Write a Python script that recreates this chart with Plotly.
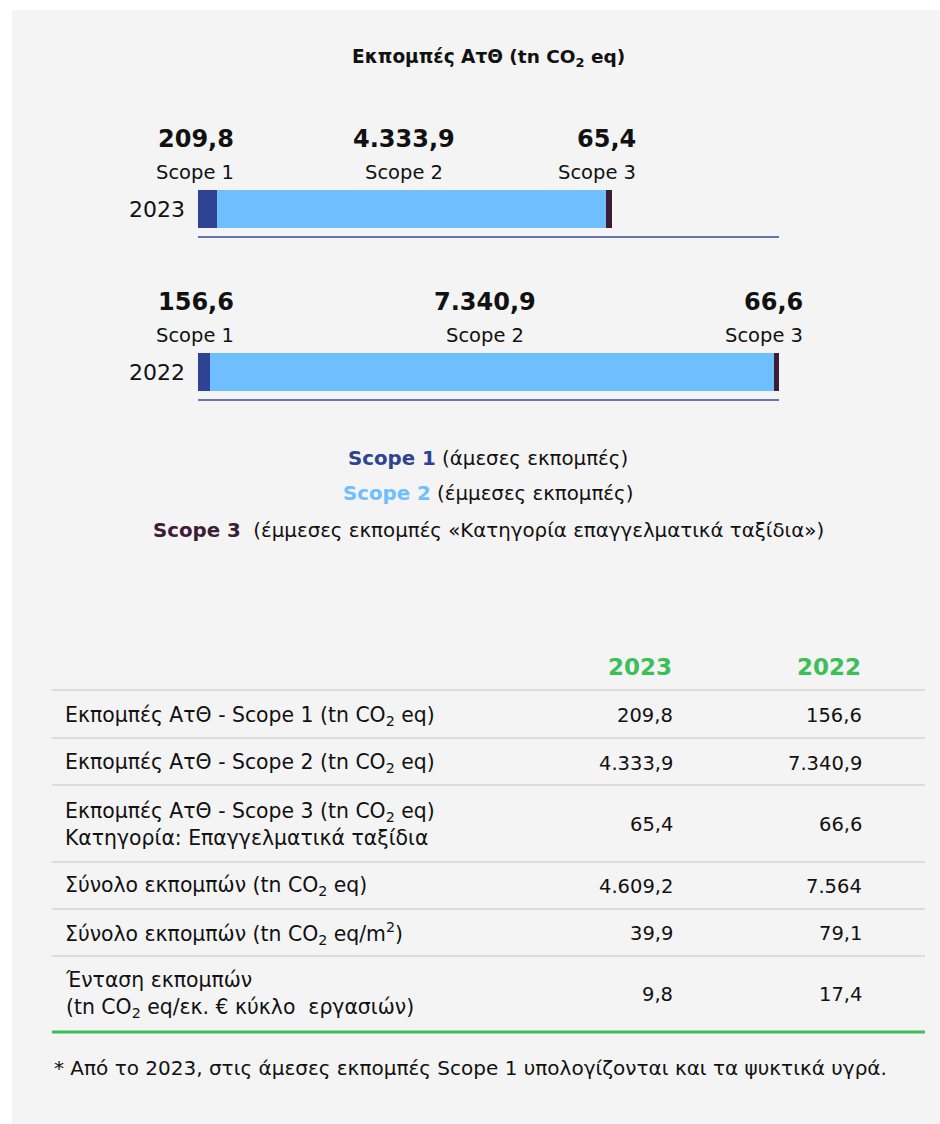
import plotly.graph_objects as go

# ---- data ----
years = ["2023", "2022"]
scope_names = ["Scope 1", "Scope 2", "Scope 3"]
scope1 = [209.8, 156.6]
scope2 = [4333.9, 7340.9]
scope3 = [65.4, 66.6]
value_labels = [["209,8", "4.333,9", "65,4"], ["156,6", "7.340,9", "66,6"]]

legend_lines = [
    ("Scope 1", "(άμεσες εκπομπές)"),
    ("Scope 2", "(έμμεσες εκπομπές)"),
    ("Scope 3", " (έμμεσες εκπομπές «Κατηγορία επαγγελματικά ταξίδια»)"),
]

table_rows = [
    "Εκπομπές ΑτΘ - Scope 1 (tn CO<sub>2</sub> eq)",
    "Εκπομπές ΑτΘ - Scope 2 (tn CO<sub>2</sub> eq)",
    "Εκπομπές ΑτΘ - Scope 3 (tn CO<sub>2</sub> eq)<br>Κατηγορία: Επαγγελματικά ταξίδια",
    "Σύνολο εκπομπών (tn CO<sub>2</sub> eq)",
    "Σύνολο εκπομπών (tn CO<sub>2</sub> eq/m<sup>2</sup>)",
    "Ένταση εκπομπών<br>(tn CO<sub>2</sub> eq/εκ. € κύκλο  εργασιών)",
]
values_2023 = ["209,8", "4.333,9", "65,4", "4.609,2", "39,9", "9,8"]
values_2022 = ["156,6", "7.340,9", "66,6", "7.564", "79,1", "17,4"]
footnote = "* Από το 2023, στις άμεσες εκπομπές Scope 1 υπολογίζονται και τα ψυκτικά υγρά."

# ---- style ----
W, H = 940, 1124
FONT = "DejaVu Sans"
C1, C2, C3 = "#2e4391", "#6fbfff", "#3d1d36"
COLORS = [C1, C2, C3]
GREEN = "#3cbf57"
BG = "#f4f4f4"
TEXT = "#111111"


def px(x):
    return x / W


def py(y):
    return 1 - y / H


fig = go.Figure()

# geometry of each year's bar block (pixels)
bar_blocks = [
    dict(x0=198, x1=612, y0=190, y1=228, line_y=237, val_y=139, lab_y=172),
    dict(x0=198, x1=779, y0=353, y1=391, line_y=400, val_y=302, lab_y=336),
]

for i, year in enumerate(years):
    vals = [scope1[i], scope2[i], scope3[i]]
    total = sum(vals)
    xa = "x" if i == 0 else f"x{i + 1}"
    ya = "y" if i == 0 else f"y{i + 1}"
    for k in range(3):
        fig.add_trace(go.Bar(
            x=[vals[k]], y=[year], orientation="h",
            marker=dict(color=COLORS[k], line=dict(width=0)),
            name=scope_names[k], showlegend=False,
            xaxis=xa, yaxis=ya, hoverinfo="skip",
        ))
    b = bar_blocks[i]
    axis_suffix = "" if i == 0 else str(i + 1)
    fig.update_layout(**{
        f"xaxis{axis_suffix}": dict(
            domain=[px(b["x0"]), px(b["x1"])], range=[0, total],
            visible=False, anchor=ya, fixedrange=True,
        ),
        f"yaxis{axis_suffix}": dict(
            domain=[py(b["y1"]), py(b["y0"])], range=[-0.5, 0.5],
            anchor=xa, showgrid=False, zeroline=False, showline=False,
            ticks="", ticklabelstandoff=12,
            tickfont=dict(family=FONT, size=22, color=TEXT),
            fixedrange=True,
        ),
    })

    # underline below each bar
    fig.add_shape(type="line", xref="paper", yref="paper",
                  x0=px(198), x1=px(779), y0=py(b["line_y"]), y1=py(b["line_y"]),
                  line=dict(color="#6674b0", width=2))

    # value + scope labels above the bar
    anchors = [
        (0, "right", 38),
        (vals[0] + vals[1] / 2, "center", -7),
        (total, "right", 26),
    ]
    for k, (xv, xanc, xs) in enumerate(anchors):
        fig.add_annotation(x=xv, xref=xa, y=py(b["val_y"]), yref="paper",
                           text=f"<b>{value_labels[i][k]}</b>", showarrow=False,
                           xanchor=xanc, yanchor="middle", xshift=xs,
                           font=dict(family=FONT, size=24, color=TEXT))
        fig.add_annotation(x=xv, xref=xa, y=py(b["lab_y"]), yref="paper",
                           text=scope_names[k], showarrow=False,
                           xanchor=xanc, yanchor="middle", xshift=xs,
                           font=dict(family=FONT, size=19.5, color=TEXT))

# gray panel
fig.add_shape(type="rect", xref="paper", yref="paper", layer="below",
              x0=px(12), x1=1, y0=0, y1=py(10),
              fillcolor=BG, line=dict(width=0))

# title
fig.add_annotation(x=px(488), y=py(58), xref="paper", yref="paper",
                   text="<b>Εκπομπές ΑτΘ (tn CO<sub>2</sub> eq)</b>", showarrow=False,
                   xanchor="center", yanchor="middle",
                   font=dict(family=FONT, size=18.5, color=TEXT))

# legend lines
for j, (name, desc) in enumerate(legend_lines):
    fig.add_annotation(x=px(488), y=py(458 + 36 * j), xref="paper", yref="paper",
                       text=f"<b><span style='color:{COLORS[j]}'>{name}</span></b> {desc}",
                       showarrow=False, xanchor="center", yanchor="middle",
                       font=dict(family=FONT, size=19.8, color=TEXT))

# table header
for label, xr in [("2023", 674), ("2022", 863)]:
    fig.add_annotation(x=px(xr), y=py(667), xref="paper", yref="paper",
                       text=f"<b>{label}</b>", showarrow=False,
                       xanchor="right", yanchor="middle",
                       font=dict(family=FONT, size=23, color=GREEN))

# table body
row_lines = [690, 738, 785, 862, 909, 956]
row_centers = [716, 763, 824, 886, 933, 994]
for y in row_lines:
    fig.add_shape(type="line", xref="paper", yref="paper",
                  x0=px(52), x1=px(925), y0=py(y), y1=py(y),
                  line=dict(color="#d6d6d6", width=1.5))
fig.add_shape(type="line", xref="paper", yref="paper",
              x0=px(52), x1=px(925), y0=py(1032), y1=py(1032),
              line=dict(color=GREEN, width=3))

for r, yc in enumerate(row_centers):
    fig.add_annotation(x=px(63), y=py(yc), xref="paper", yref="paper",
                       text=table_rows[r], showarrow=False, align="left",
                       xanchor="left", yanchor="middle",
                       font=dict(family=FONT, size=20.4, color=TEXT))
    fig.add_annotation(x=px(675), y=py(yc), xref="paper", yref="paper",
                       text=values_2023[r], showarrow=False,
                       xanchor="right", yanchor="middle",
                       font=dict(family=FONT, size=19.5, color=TEXT))
    fig.add_annotation(x=px(864), y=py(yc), xref="paper", yref="paper",
                       text=values_2022[r], showarrow=False,
                       xanchor="right", yanchor="middle",
                       font=dict(family=FONT, size=19.5, color=TEXT))

# footnote
fig.add_annotation(x=px(52), y=py(1068), xref="paper", yref="paper",
                   text=footnote, showarrow=False,
                   xanchor="left", yanchor="middle",
                   font=dict(family=FONT, size=20, color=TEXT))

fig.update_layout(
    width=W, height=H,
    margin=dict(l=0, r=0, t=0, b=0),
    paper_bgcolor="white", plot_bgcolor="rgba(0,0,0,0)",
    barmode="stack", bargap=0,
    showlegend=False,
)

fig.write_html("out.html", config={"displayModeBar": False})
